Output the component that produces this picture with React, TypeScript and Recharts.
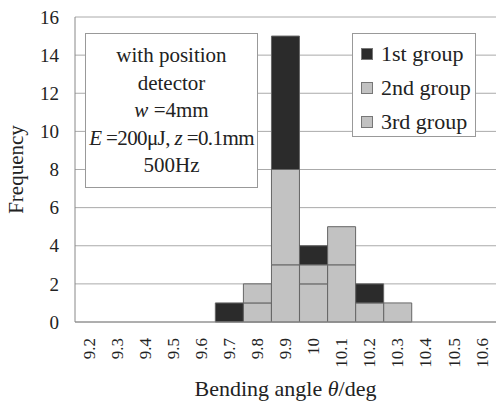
import React from 'react';
import { BarChart, Bar, XAxis, YAxis, CartesianGrid, Label } from 'recharts';

const categories = ['9.2', '9.3', '9.4', '9.5', '9.6', '9.7', '9.8', '9.9', '10', '10.1', '10.2', '10.3', '10.4', '10.5', '10.6'];
const firstGroup = [0, 0, 0, 0, 0, 1, 0, 7, 1, 0, 1, 0, 0, 0, 0];
const secondGroup = [0, 0, 0, 0, 0, 0, 1, 5, 1, 2, 0, 0, 0, 0, 0];
const thirdGroup = [0, 0, 0, 0, 0, 0, 1, 3, 2, 3, 1, 1, 0, 0, 0];
const yTicks = [0, 2, 4, 6, 8, 10, 12, 14, 16];
const boundaryTicks = [1, 2, 3, 4, 5, 6, 7, 8, 9, 10, 11, 12, 13, 14];

const data = categories.map((c, i) => ({
  name: c,
  first: firstGroup[i],
  second: secondGroup[i],
  third: thirdGroup[i],
}));

const SERIF = '"Liberation Serif", "DejaVu Serif", serif';
const DARK = '#2b2b2b';
const GRAY = '#c2c2c2';
const EDGE = '#666';

const legendItems = [
  { label: '1st group', color: DARK },
  { label: '2nd group', color: GRAY },
  { label: '3rd group', color: GRAY },
];

const RotatedTick = (props: any) => {
  const { x, y, payload } = props;
  return (
    <text
      x={x}
      y={y + 8}
      transform={`rotate(-90 ${x} ${y + 8})`}
      textAnchor="end"
      dy="0.33em"
      fontFamily={SERIF}
      fontSize={17}
      fill="#222"
    >
      {payload.value}
    </text>
  );
};

// x-axis title with an italic theta
const XTitle = (props: any) => {
  const vb = props.viewBox || {};
  const cx = vb.x + vb.width / 2;
  const by = vb.y + vb.height - 9;
  return (
    <text x={cx} y={by} textAnchor="middle" fontFamily={SERIF} fontSize={22} fill="#222">
      Bending angle <tspan fontStyle="italic">θ</tspan>/deg
    </text>
  );
};

export default function App() {
  return (
    <div style={{ position: 'absolute', left: 0, top: 0, width: 498, height: 405, background: '#fff' }}>
      <BarChart
        width={498}
        height={405}
        data={data}
        margin={{ top: 17, right: 2, left: 0, bottom: 0 }}
        barCategoryGap={0}
        style={{ fontFamily: SERIF }}
      >
        <CartesianGrid horizontal vertical={false} stroke="#aaa" />
        <XAxis
          xAxisId="t"
          type="number"
          domain={[0, 15]}
          ticks={boundaryTicks}
          allowDataOverflow
          height={0}
          mirror
          axisLine={false}
          tickSize={5}
          tickLine={{ stroke: '#888' }}
          tickFormatter={() => ''}
        />
        <XAxis
          xAxisId="c"
          dataKey="name"
          height={83}
          interval={0}
          axisLine={{ stroke: '#888' }}
          tickLine={false}
          tick={<RotatedTick />}
        >
          <Label content={<XTitle />} />
        </XAxis>
        <YAxis
          domain={[0, 16]}
          ticks={yTicks}
          interval={0}
          width={75}
          axisLine={{ stroke: '#888' }}
          tickLine={false}
          tickSize={0}
          tickMargin={16}
          tick={{ fontFamily: SERIF, fontSize: 19, fill: '#222' }}
        >
          <Label
            value="Frequency"
            angle={-90}
            position="insideLeft"
            offset={16}
            style={{ fontFamily: SERIF, fontSize: 21, fill: '#222', textAnchor: 'middle' }}
          />
        </YAxis>
        <YAxis yAxisId="r" orientation="right" width={0} domain={[0, 16]} tick={false} axisLine={{ stroke: '#999' }} />
        <Bar xAxisId="c" dataKey="third" name="3rd group" stackId="a" fill={GRAY} stroke={EDGE} strokeWidth={1} isAnimationActive={false} />
        <Bar xAxisId="c" dataKey="second" name="2nd group" stackId="a" fill={GRAY} stroke={EDGE} strokeWidth={1} isAnimationActive={false} />
        <Bar xAxisId="c" dataKey="first" name="1st group" stackId="a" fill={DARK} stroke={EDGE} strokeWidth={1} isAnimationActive={false} />
      </BarChart>
      <div
        style={{
          position: 'absolute',
          left: 352,
          top: 33,
          width: 122,
          height: 99,
          paddingTop: 3,
          border: '1px solid #999',
          background: '#fff',
          fontFamily: SERIF,
          fontSize: 22,
          color: '#222',
          boxSizing: 'content-box',
        }}
      >
        {legendItems.map((it) => (
          <div key={it.label} style={{ display: 'flex', alignItems: 'center', height: 34, paddingLeft: 8, whiteSpace: 'nowrap' }}>
            <span
              style={{
                display: 'inline-block',
                width: 10,
                height: 10,
                background: it.color,
                border: '1px solid #777',
                marginRight: 8,
                flex: 'none',
              }}
            />
            {it.label}
          </div>
        ))}
      </div>
      <div
        style={{
          position: 'absolute',
          left: 85,
          top: 33,
          width: 171,
          height: 145,
          border: '1px solid #999',
          background: '#fff',
          fontFamily: SERIF,
          fontSize: 21,
          color: '#222',
          textAlign: 'center',
          lineHeight: '27.5px',
          paddingTop: 8,
          boxSizing: 'content-box',
          whiteSpace: 'nowrap',
        }}
      >
        <div>with position</div>
        <div>detector</div>
        <div>
          <i>w</i> =4mm
        </div>
        <div style={{ letterSpacing: -0.6 }}>
          <i>E</i> =200μJ, <i>z</i> =0.1mm
        </div>
        <div>500Hz</div>
      </div>
    </div>
  );
}
